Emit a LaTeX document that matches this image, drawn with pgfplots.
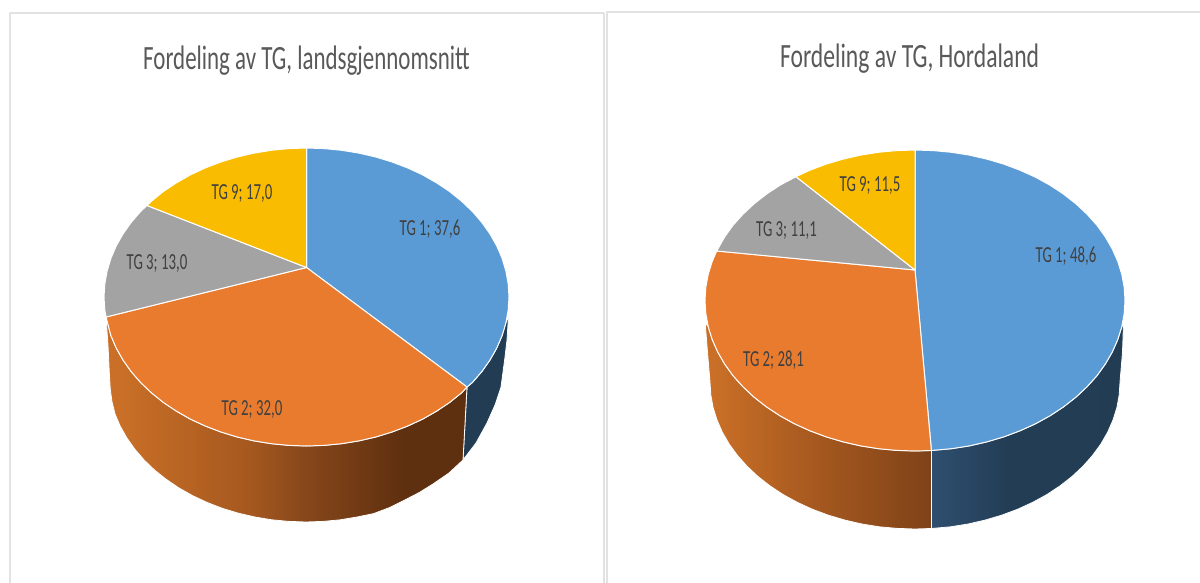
\documentclass[border=0pt]{standalone}
\usepackage{graphicx}
\usepackage{fontspec}
\setmainfont{Carlito}
\usepackage{pgfplots}
\pgfplotsset{compat=1.18}
\definecolor{cblue}{HTML}{5B9BD5}
\definecolor{corange}{HTML}{E97B2F}
\definecolor{cgray}{HTML}{A3A3A3}
\definecolor{cyellow}{HTML}{F9BC00}
\definecolor{sblue}{HTML}{223C53}
\definecolor{pborder}{HTML}{E2E2E2}
\definecolor{ttl}{HTML}{595959}
\definecolor{lbl}{HTML}{404040}
\pgfdeclarehorizontalshading{orangeL}{100bp}{
  rgb(0bp)=(0.788,0.435,0.153);
  rgb(27bp)=(0.788,0.435,0.153);
  rgb(45bp)=(0.647,0.345,0.122);
  rgb(53bp)=(0.522,0.275,0.102);
  rgb(66bp)=(0.373,0.188,0.059);
  rgb(100bp)=(0.373,0.188,0.059)}
\pgfdeclarehorizontalshading{orangeR}{100bp}{
  rgb(0bp)=(0.788,0.435,0.153);
  rgb(27bp)=(0.788,0.435,0.153);
  rgb(50bp)=(0.647,0.345,0.122);
  rgb(75bp)=(0.498,0.259,0.094);
  rgb(100bp)=(0.498,0.259,0.094)}
\pgfdeclarehorizontalshading{blueR}{100bp}{
  rgb(0bp)=(0.184,0.310,0.439);
  rgb(25bp)=(0.184,0.310,0.439);
  rgb(45bp)=(0.137,0.239,0.333);
  rgb(100bp)=(0.133,0.235,0.325)}
\newcommand{\ttlnode}[4]{\node[anchor=base,text=ttl] at (axis cs:#1,#2) {\scalebox{#3}[1]{\fontsize{34}{36}\selectfont #4}};}
\newcommand{\lblnode}[3]{\node[anchor=base,text=lbl] at (axis cs:#1,#2) {\scalebox{0.645}[1]{\fontsize{23}{25}\selectfont #3}};}
\begin{document}
\begin{tikzpicture}
\begin{axis}[
  scale only axis, width=1200pt, height=583pt,
  xmin=0, xmax=1200, ymin=0, ymax=583, y dir=reverse,
  hide axis, no markers, clip=true,
  every axis plot/.append style={line join=round}
]
% page extent
\addplot[draw=none] coordinates {(0,0) (1200,0) (1200,583) (0,583)};
% panel frames
\addplot[draw=pborder, line width=2pt] coordinates {(9.5,583) (9.5,13.5) (603.5,13.5) (603.5,583)};
\addplot[draw=pborder, line width=2pt] coordinates {(606.5,583) (606.5,12.5) (1200,12.5)};

% ---- left pie: side faces
\addplot[draw=white, line width=0.8pt, fill=sblue] coordinates {
 (467,387) (472.4,382.5) (481.9,371.5) (490,360) (496.8,348) (502.1,335.6) (505.9,322.9) (508.5,316)
 (507,340) (505,357) (501,387) (495,405) (487,423) (476,443) (463,460)} --cycle;
\addplot[draw=white, line width=0.8pt, shading=orangeL] coordinates {
 (106,317) (110.9,335.6) (116.2,348) (123,360) (131.1,371.5) (140.6,382.5) (151.4,392.8) (163.3,402.4)
 (176.3,411.1) (190.3,419.1) (205.2,426) (220.9,432) (237.2,437) (254.1,440.9)
 (271.3,443.7) (288.8,445.4) (306.5,446) (324.2,445.4) (341.7,443.7) (358.9,440.9) (375.8,437) (392.1,432)
 (407.8,426) (422.7,419.1) (436.7,411.1) (449.7,402.4) (461.6,392.8) (467,387)
 (463,460) (449,473) (433,484) (419.3,492.5) (404.8,500) (389.5,507.6) (373.6,513.6) (357.1,517) (340.3,519.8)
 (323.2,521.4) (306,522) (288.8,521.4) (271.7,519.8) (254.9,517)
 (238.4,513.2) (222.5,508.4) (207.2,502.5) (192.7,495.7) (179,488) (166.3,479.4) (154.6,470.1) (144.1,460)
 (134.9,449.3) (126.9,438) (120.3,426.3) (115.1,414.2)
 (112,401.8) (110.3,389.3) (109.5,376.6) (108,345)} --cycle;
% ---- left pie: top faces
\addplot[draw=white, line width=1pt, fill=cblue] coordinates {
 (306.5,267.5) (306.5,148) (324.2,148.6) (341.7,150.3) (358.9,153.1) (375.8,157) (392.1,162) (407.8,168)
 (422.7,174.9) (436.7,182.9) (449.7,191.6) (461.6,201.2) (472.4,211.5)
 (481.9,222.5) (490,234) (496.8,246) (502.1,258.4) (505.9,271.1) (508.2,284) (509,297) (508.2,310)
 (505.9,322.9) (502.1,335.6) (496.8,348) (490,360) (481.9,371.5) (472.4,382.5) (467,387)} --cycle;
\addplot[draw=white, line width=1pt, fill=corange] coordinates {
 (306.5,267.5) (467,387) (461.6,392.8) (449.7,402.4) (436.7,411.1) (422.7,419.1) (407.8,426) (392.1,432)
 (375.8,437) (358.9,440.9) (341.7,443.7) (324.2,445.4) (306.5,446)
 (288.8,445.4) (271.3,443.7) (254.1,440.9) (237.2,437) (220.9,432) (205.2,426) (190.3,419.1) (176.3,411.1)
 (163.3,402.4) (151.4,392.8) (140.6,382.5) (131.1,371.5) (123,360) (116.2,348) (110.9,335.6) (106,317)} --cycle;
\addplot[draw=white, line width=1pt, fill=cgray] coordinates {
 (306.5,267.5) (106,317) (104.8,310) (104,297) (104.8,284) (107.1,271.1) (110.9,258.4) (116.2,246) (123,234)
 (131.1,222.5) (140.6,211.5) (147,205.5)} --cycle;
\addplot[draw=white, line width=1pt, fill=cyellow] coordinates {
 (306.5,267.5) (147,205.5) (151.4,201.2) (163.3,191.6) (176.3,182.9) (190.3,174.9) (205.2,168) (220.9,162)
 (237.2,157) (254.1,153.1) (271.3,150.3) (288.8,148.6) (306.5,148)} --cycle;

% ---- right pie: side faces
\addplot[draw=white, line width=0.8pt, shading=blueR] coordinates {
 (931.4,450.5) (951.5,448.7) (969.3,445.9) (986.8,441.9) (1003.7,436.9) (1020,430.8) (1035.5,423.8) (1050,415.8)
 (1063.5,406.9) (1075.9,397.2) (1087,386.8) (1096.9,375.8) (1105.3,364.1)
 (1112.3,352) (1117.8,339.5) (1121.8,326.6) (1123.5,323) (1122.5,352) (1120,382) (1119.2,394.8) (1116.9,407.5) (1113,420)
 (1107.6,432.3) (1100.8,444.1) (1092.5,455.5) (1082.9,466.3)
 (1072,476.5) (1060,485.9) (1046.8,494.6) (1032.6,502.4) (1017.5,509.3) (1001.6,515.2) (985.1,520.1) (968.1,524)
 (950.6,526.8) (931.4,528.5)} --cycle;
\addplot[draw=white, line width=0.8pt, shading=orangeR] coordinates {
 (705.2,323) (708.2,326.6) (712.2,339.5) (717.7,352) (724.7,364.1) (733.1,375.8) (743,386.8) (754.1,397.2) (766.5,406.9)
 (780,415.8) (794.5,423.8) (810,430.8) (826.3,436.9) (843.2,441.9) (860.7,445.9)
 (878.5,448.7) (896.7,450.4) (915,451) (931.4,450.5) (931.4,528.5) (915,529) (897.1,528.4) (879.4,526.8) (861.9,524)
 (844.9,520.1) (828.4,515.2) (812.5,509.3) (797.4,502.4)
 (783.2,494.6) (770,485.9) (758,476.5) (747.1,466.3) (737.5,455.5) (729.2,444.1) (722.4,432.3) (717,420) (713.1,407.5)
 (710.8,394.8) (710,382) (707.5,352)} --cycle;
% ---- right pie: top faces
\addplot[draw=white, line width=1pt, fill=cblue] coordinates {
 (915,270) (915,150) (933.3,150.6) (951.5,152.3) (969.3,155.1) (986.8,159.1) (1003.7,164.1) (1020,170.2) (1035.5,177.2)
 (1050,185.2) (1063.5,194.1) (1075.9,203.8) (1087,214.2) (1096.9,225.2) (1105.3,236.9)
 (1112.3,249) (1117.8,261.5) (1121.8,274.4) (1124.2,287.4) (1125,300.5) (1124.2,313.6) (1121.8,326.6) (1117.8,339.5)
 (1112.3,352) (1105.3,364.1) (1096.9,375.8) (1087,386.8) (1075.9,397.2) (1063.5,406.9)
 (1050,415.8) (1035.5,423.8) (1020,430.8) (1003.7,436.9) (986.8,441.9) (969.3,445.9) (951.5,448.7) (931.4,450.5)} --cycle;
\addplot[draw=white, line width=1pt, fill=corange] coordinates {
 (915,270) (931.4,450.5) (915,451) (896.7,450.4) (878.5,448.7) (860.7,445.9) (843.2,441.9) (826.3,436.9) (810,430.8)
 (794.5,423.8) (780,415.8) (766.5,406.9) (754.1,397.2) (743,386.8)
 (733.1,375.8) (724.7,364.1) (717.7,352) (712.2,339.5) (708.2,326.6) (705.8,313.6) (705,300.5) (705.8,287.4) (708.2,274.4)
 (712.2,261.5) (716.7,251)} --cycle;
\addplot[draw=white, line width=1pt, fill=cgray] coordinates {
 (915,270) (716.7,251) (724.7,236.9) (733.1,225.2) (743,214.2) (754.1,203.8) (766.5,194.1) (780,185.2) (796,176.7)} --cycle;
\addplot[draw=white, line width=1pt, fill=cyellow] coordinates {
 (915,270) (796,176.7) (810,170.2) (826.3,164.1) (843.2,159.1) (860.7,155.1) (878.5,152.3) (896.7,150.6) (915,150)} --cycle;

% ---- text
\ttlnode{306.5}{69.3}{0.675}{Fordeling av TG, landsgjennomsnitt}
\ttlnode{909.6}{68}{0.695}{Fordeling av TG, Hordaland}
\lblnode{430}{235.5}{TG 1; 37,6}
\lblnode{252}{415.5}{TG 2; 32,0}
\lblnode{157}{269.5}{TG 3; 13,0}
\lblnode{242}{199.5}{TG 9; 17,0}
\lblnode{1066}{262.5}{TG 1; 48,6}
\lblnode{773.5}{366.5}{TG 2; 28,1}
\lblnode{786.5}{236.5}{TG 3; 11,1}
\lblnode{870}{191.5}{TG 9; 11,5}
\end{axis}
\end{tikzpicture}
\end{document}
